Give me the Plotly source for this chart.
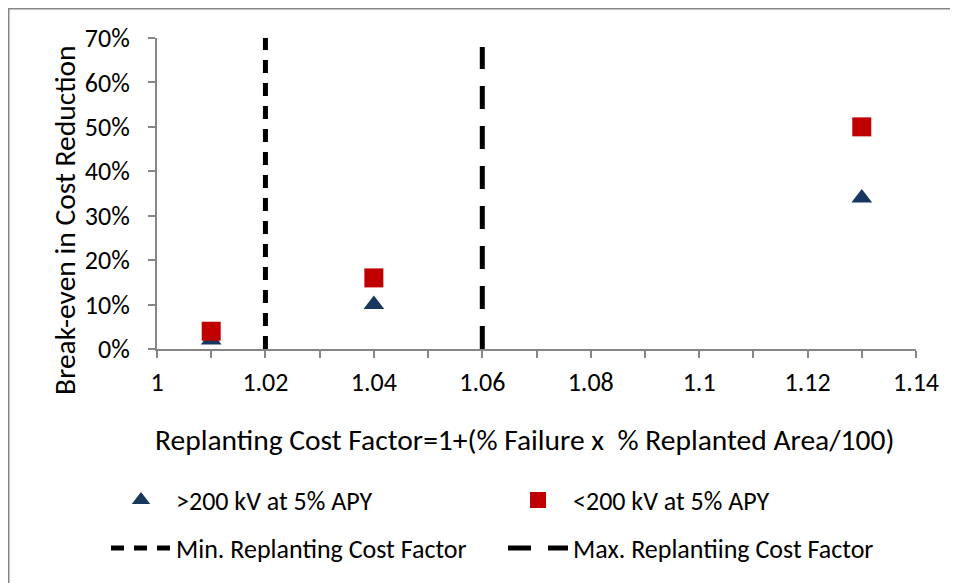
import plotly.graph_objects as go

# ---- data ----
x_points = [1.01, 1.04, 1.13]
above_200kv = [0.02, 0.10, 0.34]   # >200 kV at 5% APY
below_200kv = [0.04, 0.16, 0.50]   # <200 kV at 5% APY

min_factor_x = [1.02, 1.02]
min_factor_y = [0.0, 0.70]
max_factor_x = [1.06, 1.06]
max_factor_y = [0.0, 0.68]

x_tick_values = [1.00, 1.02, 1.04, 1.06, 1.08, 1.10, 1.12, 1.14]
x_tick_labels = ["1", "1.02", "1.04", "1.06", "1.08", "1.1", "1.12", "1.14"]
y_tick_values = [0.0, 0.1, 0.2, 0.3, 0.4, 0.5, 0.6, 0.7]
y_tick_labels = ["0%", "10%", "20%", "30%", "40%", "50%", "60%", "70%"]

x_title = "Replanting Cost Factor=1+(% Failure x\u00a0 % Replanted Area/100)"
y_title = "Break-even in Cost Reduction"

FONT = "Calibri, Carlito, Lato, sans-serif"
AXIS_COLOR = "#868686"
FS = 26          # tick labels & legend
FS_TITLE = 29.5  # axis titles

fig = go.Figure()

fig.add_trace(go.Scatter(
    x=x_points, y=above_200kv, mode="markers", name=">200 kV at 5% APY",
    marker=dict(symbol="triangle-up", size=18, color="#17375E"),
    legend="legend",
))
fig.add_trace(go.Scatter(
    x=x_points, y=below_200kv, mode="markers", name="<200 kV at 5% APY",
    marker=dict(symbol="square", size=19, color="#C00000"),
    legend="legend",
))
fig.add_trace(go.Scatter(
    x=min_factor_x, y=min_factor_y, mode="lines", name="Min. Replanting Cost Factor",
    line=dict(color="black", width=5, dash="13px,10px"),
    legend="legend2",
))
fig.add_trace(go.Scatter(
    x=max_factor_x, y=max_factor_y, mode="lines", name="Max. Replantiing Cost Factor",
    line=dict(color="black", width=5, dash="23px,17px"),
    legend="legend2",
))

# page body offset (default 8px margin) -> work in screen pixels
OFF = 8
W, H = 958, 583
SX0, SX1, SY0, SY1 = 157, 916, 38, 349   # plot area in screen pixels
L = SX0 - OFF
T = SY0 - OFF
R = W - (SX1 - OFF)
B = H - (SY1 - OFF)
pw, ph = SX1 - SX0, SY1 - SY0

def px_x(p):
    return (p - SX0) / pw

def px_y(p):
    return (SY1 - p) / ph

legend_common = dict(
    orientation="h", xanchor="left", yanchor="middle",
    font=dict(family=FONT, size=FS, color="black"),
    bgcolor="rgba(0,0,0,0)", itemwidth=60, entrywidth=322,
    traceorder="normal",
)

fig.update_layout(
    width=W, height=H,
    margin=dict(l=L, r=R, t=T, b=B),
    paper_bgcolor="white", plot_bgcolor="white",
    font=dict(family=FONT, size=FS, color="black"),
    showlegend=True,
    legend=dict(x=px_x(106), y=px_y(500), **legend_common),
    legend2=dict(x=px_x(106), y=px_y(548), **legend_common),
    xaxis=dict(
        range=[1.0, 1.14], tickvals=x_tick_values, ticktext=x_tick_labels,
        showgrid=False, zeroline=False, showline=True, linecolor=AXIS_COLOR, linewidth=2,
        ticks="outside", ticklen=7, tickwidth=2, tickcolor=AXIS_COLOR,
        minor=dict(dtick=0.01, ticks="outside", ticklen=7, tickwidth=2, tickcolor=AXIS_COLOR, showgrid=False),
        ticklabelstandoff=2,
        tickfont=dict(family=FONT, size=FS, color="black"),
        automargin=False,
    ),
    yaxis=dict(
        range=[0, 0.70], tickvals=y_tick_values, ticktext=y_tick_labels,
        showgrid=False, zeroline=False, showline=True, linecolor=AXIS_COLOR, linewidth=2,
        ticks="outside", ticklen=7, tickwidth=2, tickcolor=AXIS_COLOR,
        ticklabelstandoff=13,
        tickfont=dict(family=FONT, size=FS, color="black"),
        automargin=False,
    ),
    annotations=[
        dict(text=x_title, xref="paper", yref="paper", x=px_x(524), y=px_y(440),
             xanchor="center", yanchor="middle", showarrow=False,
             font=dict(family=FONT, size=FS_TITLE, color="black")),
        dict(text=y_title, xref="paper", yref="paper", x=px_x(65), y=px_y(220),
             xanchor="center", yanchor="middle", showarrow=False, textangle=-90,
             font=dict(family=FONT, size=FS_TITLE, color="black")),
    ],
    shapes=[dict(
        type="rect", xref="paper", yref="paper",
        x0=px_x(8.5), x1=px_x(1000), y0=px_y(640), y1=px_y(8.5),
        line=dict(color=AXIS_COLOR, width=2), fillcolor="rgba(0,0,0,0)", layer="below",
    )],
)

fig.write_html("out.html")
